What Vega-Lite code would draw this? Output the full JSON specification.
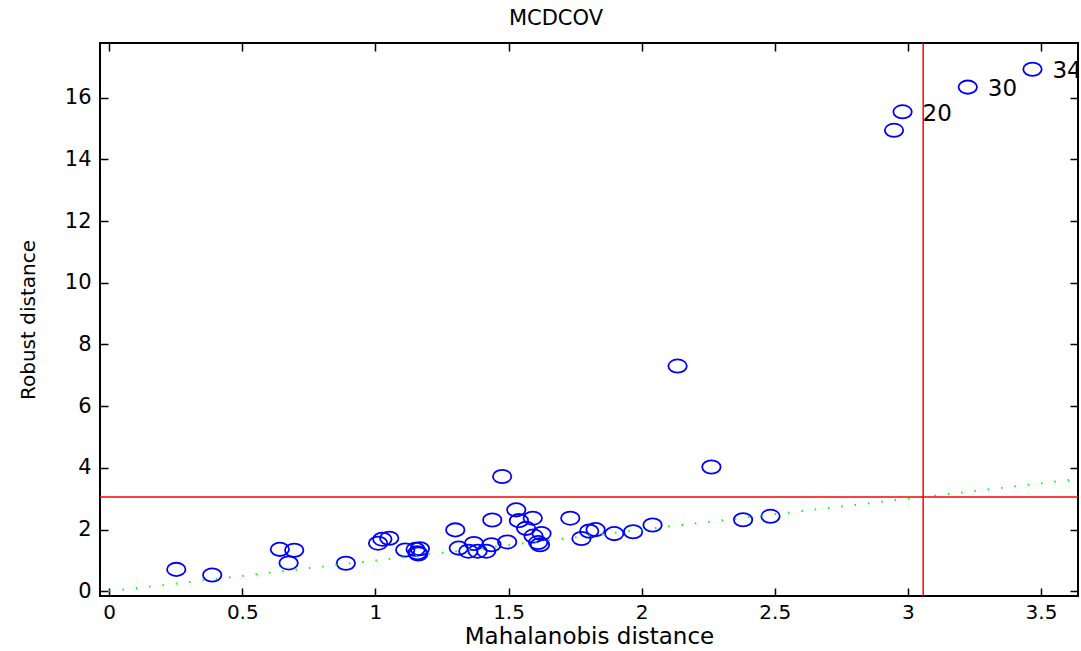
{
  "$schema": "https://vega.github.io/schema/vega-lite/v6.json",
  "autosize": {"type": "none"},
  "padding": {"left": 100, "top": 43, "right": 3, "bottom": 55},
  "width": 978,
  "height": 553,
  "background": "white",
  "title": {"text": "MCDCOV", "font": "DejaVu Sans", "fontSize": 21, "fontWeight": "normal", "color": "black", "offset": 13, "dx": -33},
  "config": {
    "view": {"stroke": "black", "strokeWidth": 2},
    "axis": {"grid": false, "domain": false, "tickColor": "black", "tickWidth": 1.5, "tickSize": -8, "labelFont": "DejaVu Sans", "labelFontSize": 21, "labelColor": "black", "titleFont": "DejaVu Sans", "titleFontWeight": "normal", "titleColor": "black"}
  },
  "datasets": {
    "pts": [
      {"md": 0.252, "rd": 0.71, "lab": ""},
      {"md": 0.387, "rd": 0.53, "lab": ""},
      {"md": 0.641, "rd": 1.36, "lab": ""},
      {"md": 0.695, "rd": 1.33, "lab": ""},
      {"md": 0.674, "rd": 0.92, "lab": ""},
      {"md": 0.889, "rd": 0.91, "lab": ""},
      {"md": 1.010, "rd": 1.56, "lab": ""},
      {"md": 1.026, "rd": 1.69, "lab": ""},
      {"md": 1.052, "rd": 1.72, "lab": ""},
      {"md": 1.112, "rd": 1.34, "lab": ""},
      {"md": 1.151, "rd": 1.36, "lab": ""},
      {"md": 1.167, "rd": 1.38, "lab": ""},
      {"md": 1.158, "rd": 1.25, "lab": ""},
      {"md": 1.161, "rd": 1.21, "lab": ""},
      {"md": 1.300, "rd": 1.99, "lab": ""},
      {"md": 1.313, "rd": 1.40, "lab": ""},
      {"md": 1.349, "rd": 1.30, "lab": ""},
      {"md": 1.370, "rd": 1.55, "lab": ""},
      {"md": 1.384, "rd": 1.30, "lab": ""},
      {"md": 1.416, "rd": 1.30, "lab": ""},
      {"md": 1.436, "rd": 1.51, "lab": ""},
      {"md": 1.439, "rd": 2.31, "lab": ""},
      {"md": 1.476, "rd": 3.72, "lab": ""},
      {"md": 1.495, "rd": 1.60, "lab": ""},
      {"md": 1.529, "rd": 2.64, "lab": ""},
      {"md": 1.539, "rd": 2.29, "lab": ""},
      {"md": 1.591, "rd": 2.37, "lab": ""},
      {"md": 1.566, "rd": 2.04, "lab": ""},
      {"md": 1.594, "rd": 1.79, "lab": ""},
      {"md": 1.624, "rd": 1.87, "lab": ""},
      {"md": 1.611, "rd": 1.58, "lab": ""},
      {"md": 1.618, "rd": 1.51, "lab": ""},
      {"md": 1.732, "rd": 2.37, "lab": ""},
      {"md": 1.774, "rd": 1.71, "lab": ""},
      {"md": 1.803, "rd": 1.95, "lab": ""},
      {"md": 1.827, "rd": 2.00, "lab": ""},
      {"md": 1.897, "rd": 1.87, "lab": ""},
      {"md": 1.968, "rd": 1.93, "lab": ""},
      {"md": 2.041, "rd": 2.15, "lab": ""},
      {"md": 2.135, "rd": 7.30, "lab": ""},
      {"md": 2.262, "rd": 4.03, "lab": ""},
      {"md": 2.381, "rd": 2.32, "lab": ""},
      {"md": 2.484, "rd": 2.43, "lab": ""},
      {"md": 2.948, "rd": 14.94, "lab": ""},
      {"md": 2.980, "rd": 15.54, "lab": "20"},
      {"md": 3.225, "rd": 16.34, "lab": "30"},
      {"md": 3.468, "rd": 16.92, "lab": "34"}
    ],
    "diag": [
      {"md": 0, "rd": 0},
      {"md": 3.64, "rd": 3.64}
    ],
    "cut": [
      {"c": 3.0575}
    ]
  },
  "layer": [
    {
      "data": {"name": "pts"},
      "mark": {"type": "point", "shape": "M1,0 C1,0.398 0.5523,0.72 0,0.72 C-0.5523,0.72 -1,0.398 -1,0 C-1,-0.398 -0.5523,-0.72 0,-0.72 C0.5523,-0.72 1,-0.398 1,0 Z", "size": 340, "filled": false, "color": "#0000ff", "opacity": 1, "strokeWidth": 1.8, "clip": true},
      "encoding": {
        "x": {"field": "md", "type": "quantitative", "scale": {"domain": [-0.0345, 3.639], "nice": false, "zero": false},
              "axis": {"orient": "bottom", "values": [0, 0.5, 1, 1.5, 2, 2.5, 3, 3.5], "labelExpr": "datum.value + ''", "labelPadding": 14, "labelFontSize": 20, "title": "Mahalanobis distance", "titleFontSize": 23, "titlePadding": 3}},
        "y": {"field": "rd", "type": "quantitative", "scale": {"domain": [-0.152, 17.77], "nice": false, "zero": false},
              "axis": {"orient": "left", "values": [0, 2, 4, 6, 8, 10, 12, 14, 16], "labelPadding": 17, "title": "Robust distance", "titleFontSize": 20, "titlePadding": 26}}
      }
    },
    {
      "data": {"name": "diag"},
      "mark": {"type": "line", "color": "#00ff00", "strokeWidth": 2, "strokeDash": [1.5, 11.9], "clip": true},
      "encoding": {
        "x": {"field": "md", "type": "quantitative",
              "axis": {"orient": "top", "values": [0, 0.5, 1, 1.5, 2, 2.5, 3, 3.5], "labels": false, "title": null}},
        "y": {"field": "rd", "type": "quantitative",
              "axis": {"orient": "right", "values": [0, 2, 4, 6, 8, 10, 12, 14, 16], "labels": false, "title": null}}
      }
    },
    {
      "data": {"name": "cut"},
      "mark": {"type": "rule", "color": "#ff0000", "strokeWidth": 1.5},
      "encoding": {"y": {"field": "c", "type": "quantitative", "axis": null}}
    },
    {
      "data": {"name": "cut"},
      "mark": {"type": "rule", "color": "#ff0000", "strokeWidth": 1.5},
      "encoding": {"x": {"field": "c", "type": "quantitative", "axis": null}}
    },
    {
      "data": {"name": "pts"},
      "mark": {"type": "text", "align": "left", "baseline": "middle", "dx": 20, "dy": 2, "font": "DejaVu Sans", "fontSize": 23, "color": "black", "clip": true},
      "encoding": {
        "x": {"field": "md", "type": "quantitative", "axis": null},
        "y": {"field": "rd", "type": "quantitative", "axis": null},
        "text": {"field": "lab"}
      }
    }
  ]
}
